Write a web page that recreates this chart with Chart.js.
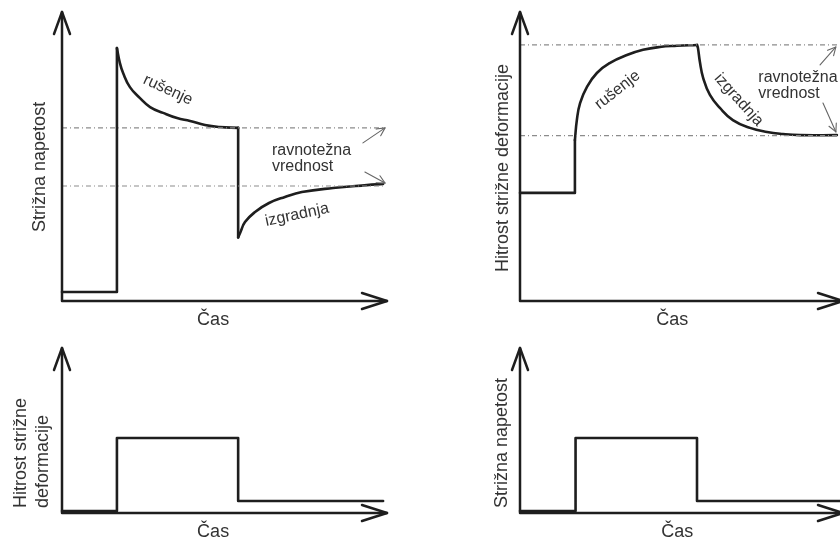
<!DOCTYPE html>
<html>
<head>
<meta charset="utf-8">
<script src="https://cdn.jsdelivr.net/npm/chart.js@4"></script>
<style>
  body { margin: 0; width: 840px; height: 540px; overflow: hidden; background: #fff; position: relative; }
  canvas { position: absolute; }
</style>
</head>
<body>
<canvas id="napetost" width="420" height="330" style="left:0;top:0"></canvas>
<canvas id="hitrost" width="430" height="330" style="left:420px;top:0"></canvas>
<canvas id="vhodHitrost" width="420" height="210" style="left:0;top:330px"></canvas>
<canvas id="vhodNapetost" width="430" height="210" style="left:420px;top:330px"></canvas>
<script>
// zgoraj levo - strižna napetost (odziv)
const napKorakT = [0, 1.69, 1.69]
const napKorakV = [0.31, 0.31, 8.75]
const napRusenjeT = [1.69, 1.78, 1.88, 2.09, 2.40, 2.71, 3.11, 3.54, 3.94, 4.40, 4.86, 5.42]
const napRusenjeV = [8.75, 8.24, 7.89, 7.40, 7.02, 6.71, 6.51, 6.33, 6.23, 6.09, 6.02, 5.99]
const napPadecT = [5.42, 5.42]
const napPadecV = [5.99, 2.20]
const napIzgradnjaT = [5.42, 5.48, 5.63, 5.94, 6.37, 6.86, 7.38, 8.34, 9.38, 9.88]
const napIzgradnjaV = [2.20, 2.35, 2.73, 3.08, 3.39, 3.60, 3.77, 3.91, 4.01, 4.05]
const napRavnotezje = [5.99, 3.98]

// zgoraj desno - hitrost strižne deformacije (odziv)
const hitKorakT = [0, 1.70, 1.70]
const hitKorakV = [3.74, 3.74, 5.57]
const hitRusenjeT = [1.70, 1.76, 1.86, 2.07, 2.38, 2.79, 3.31, 3.81, 4.33, 4.86, 5.48]
const hitRusenjeV = [5.57, 6.26, 6.85, 7.40, 7.89, 8.24, 8.51, 8.69, 8.79, 8.83, 8.86]
const hitIzgradnjaT = [5.48, 5.51, 5.57, 5.67, 5.88, 6.19, 6.59, 7.12, 7.65, 8.14, 8.67, 9.81]
const hitIzgradnjaV = [8.86, 8.75, 8.27, 7.72, 7.13, 6.68, 6.26, 5.99, 5.85, 5.78, 5.74, 5.74]
const hitRavnotezje = [8.86, 5.72]

// spodaj - vsiljena stopnica
const vhodHitT = [0, 1.69, 1.69, 5.42, 5.42, 9.88]
const vhodHitV = [0.12, 0.12, 4.55, 4.55, 0.73, 0.73]
const vhodNapT = [0, 1.72, 1.72, 5.48, 5.48, 10]
const vhodNapV = [0.12, 0.12, 4.55, 4.55, 0.73, 0.73]

const casLabel = 'Čas'
const ink = '#1e1e1e'
const textInk = '#333'
const fontName = '"Liberation Sans", Arial, sans-serif'

const pts = (t, v) => t.map((x, i) => ({ x: x, y: v[i] }))

function step(t, v) {
  return { data: pts(t, v), borderColor: ink, borderWidth: 2.6, pointRadius: 0, tension: 0, clip: false, borderJoinStyle: 'round', borderCapStyle: 'round' }
}
function curve(t, v) {
  const ds = step(t, v)
  ds.tension = 0.45
  return ds
}
function level(y, xEnd) {
  return { data: [{ x: 0, y: y }, { x: xEnd, y: y }], borderColor: '#8c8c8c', borderWidth: 1.2, borderDash: [5, 3, 1, 3], pointRadius: 0, clip: false }
}

function arrowHead(ctx, x, y, ang, len, half) {
  const bx = x - len * Math.cos(ang), by = y - len * Math.sin(ang)
  const nx = -Math.sin(ang) * half, ny = Math.cos(ang) * half
  ctx.beginPath()
  ctx.moveTo(bx + nx, by + ny)
  ctx.lineTo(x, y)
  ctx.lineTo(bx - nx, by - ny)
  ctx.stroke()
}

const sketchPlugin = {
  id: 'sketch',
  afterDatasetsDraw(chart, args, opts) {
    const ctx = chart.ctx
    const X = v => chart.scales.x.getPixelForValue(v)
    const Y = v => chart.scales.y.getPixelForValue(v)
    ctx.save()
    ctx.strokeStyle = ink
    ctx.lineWidth = 2.5
    ctx.lineCap = 'round'
    ctx.lineJoin = 'round'
    const x0 = X(0), y0 = Y(0), xe = X(10), ye = Y(10)
    ctx.beginPath()
    ctx.moveTo(x0, y0); ctx.lineTo(x0, ye)
    ctx.moveTo(x0, y0); ctx.lineTo(xe, y0)
    ctx.stroke()
    arrowHead(ctx, x0, ye, -Math.PI / 2, 22, 8)
    arrowHead(ctx, xe, y0, 0, 25, 8)

    // puščice od "ravnotežna vrednost" do črtkanih nivojev
    ctx.strokeStyle = '#666'
    ctx.lineWidth = 1.1
    ;(opts.pointers || []).forEach(p => {
      const ax = X(p.from[0]), ay = Y(p.from[1]), bx = X(p.to[0]), by = Y(p.to[1])
      ctx.beginPath(); ctx.moveTo(ax, ay); ctx.lineTo(bx, by); ctx.stroke()
      arrowHead(ctx, bx, by, Math.atan2(by - ay, bx - ax), 8, 4)
    })

    ctx.fillStyle = textInk
    ctx.textBaseline = 'middle'
    ctx.font = '18px ' + fontName
    ctx.textAlign = 'center'
    ctx.fillText(casLabel, X(opts.xTitleAt), y0 + 19)

    const yt = opts.yTitle
    yt.lines.forEach((txt, i) => {
      ctx.save()
      ctx.translate(x0 + yt.offsets[i], Y(yt.at))
      ctx.rotate(-Math.PI / 2)
      ctx.textAlign = yt.align
      ctx.fillText(txt, 0, 0)
      ctx.restore()
    })

    ctx.font = '16px ' + fontName
    ;(opts.notes || []).forEach(n => {
      ctx.save()
      ctx.translate(X(n.x), Y(n.y))
      ctx.rotate(n.rot * Math.PI / 180)
      ctx.textAlign = n.align || 'center'
      ctx.fillText(n.text, 0, 0)
      ctx.restore()
    })
    ctx.restore()
  }
}

function makeChart(id, datasets, padding, sketch) {
  return new Chart(document.getElementById(id), {
    type: 'line',
    data: { datasets: datasets },
    plugins: [sketchPlugin],
    options: {
      responsive: false,
      animation: false,
      events: [],
      layout: { padding: padding },
      scales: {
        x: { type: 'linear', min: 0, max: 10, display: false },
        y: { min: 0, max: 10, display: false }
      },
      plugins: { legend: { display: false }, tooltip: { enabled: false }, sketch: sketch }
    }
  })
}

makeChart('napetost', [
  level(napRavnotezje[0], 9.94),
  level(napRavnotezje[1], 9.94),
  step(napKorakT, napKorakV),
  curve(napRusenjeT, napRusenjeV),
  step(napPadecT, napPadecV),
  curve(napIzgradnjaT, napIzgradnjaV)
], { left: 62, right: 33, top: 12, bottom: 29 }, {
  xTitleAt: 4.65,
  yTitle: { lines: ['Strižna napetost'], offsets: [-22], at: 4.64, align: 'center' },
  notes: [
    { text: 'rušenje', x: 3.26, y: 7.30, rot: 25 },
    { text: 'izgradnja', x: 7.23, y: 2.98, rot: -12 },
    { text: 'ravnotežna', x: 6.46, y: 5.22, rot: 0, align: 'left' },
    { text: 'vrednost', x: 6.46, y: 4.64, rot: 0, align: 'left' }
  ],
  pointers: [
    { from: [9.26, 5.47], to: [9.94, 5.99] },
    { from: [9.32, 4.46], to: [9.94, 4.08] }
  ]
})

makeChart('hitrost', [
  level(hitRavnotezje[0], 10),
  level(hitRavnotezje[1], 9.85),
  step(hitKorakT, hitKorakV),
  curve(hitRusenjeT, hitRusenjeV),
  curve(hitIzgradnjaT, hitIzgradnjaV)
], { left: 100, right: 7, top: 12, bottom: 29 }, {
  xTitleAt: 4.71,
  yTitle: { lines: ['Hitrost strižne deformacije'], offsets: [-17], at: 4.6, align: 'center' },
  notes: [
    { text: 'rušenje', x: 3.02, y: 7.30, rot: -38 },
    { text: 'izgradnja', x: 6.77, y: 6.96, rot: 48 },
    { text: 'ravnotežna', x: 7.38, y: 7.72, rot: 0, align: 'left' },
    { text: 'vrednost', x: 7.38, y: 7.16, rot: 0, align: 'left' }
  ],
  pointers: [
    { from: [9.29, 8.17], to: [9.78, 8.79] },
    { from: [9.38, 6.85], to: [9.78, 5.85] }
  ]
})

makeChart('vhodHitrost', [
  step(vhodHitT, vhodHitV)
], { left: 62, right: 33, top: 18, bottom: 27 }, {
  xTitleAt: 4.65,
  yTitle: { lines: ['Hitrost strižne', 'deformacije'], offsets: [-41, -19], at: 0.3, align: 'left' }
})

makeChart('vhodNapetost', [
  step(vhodNapT, vhodNapV)
], { left: 100, right: 7, top: 18, bottom: 27 }, {
  xTitleAt: 4.87,
  yTitle: { lines: ['Strižna napetost'], offsets: [-18], at: 4.24, align: 'center' }
})
</script>
</body>
</html>
